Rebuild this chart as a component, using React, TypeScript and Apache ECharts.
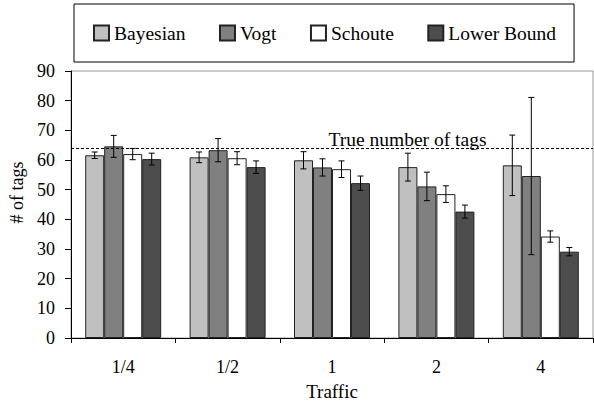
import React, { useEffect, useRef } from "react";
import * as echarts from "echarts";

const categories = ["1/4", "1/2", "1", "2", "4"];
const seriesNames = ["Bayesian", "Vogt", "Schoute", "Lower Bound"];
const bayesian = [61.6, 60.9, 59.9, 57.6, 58.2];
const bayesianErr = [1.1, 1.8, 2.9, 4.7, 10.2];
const vogt = [64.6, 63.3, 57.5, 51.1, 54.6];
const vogtErr = [3.7, 3.9, 2.9, 4.8, 26.5];
const schoute = [62.0, 60.6, 56.9, 48.5, 34.2];
const schouteErr = [1.9, 2.2, 2.8, 2.8, 1.9];
const lowerBound = [60.3, 57.6, 52.2, 42.6, 29.1];
const lowerBoundErr = [2.0, 2.1, 2.4, 2.2, 1.4];
const trueTags = 63.8;
const yTicks = [0, 10, 20, 30, 40, 50, 60, 70, 80, 90];

const colors = ["#c0c0c0", "#808080", "#ffffff", "#4d4d4d"];
const FONT = "Liberation Serif";
const BAR_W = 19;

export default function App() {
  const ref = useRef<HTMLDivElement>(null);
  useEffect(() => {
    if (!ref.current) return;
    const chart = echarts.init(ref.current, null, { renderer: "svg" });
    const values = [bayesian, vogt, schoute, lowerBound];
    const errs = [bayesianErr, vogtErr, schouteErr, lowerBoundErr];

    const barSeries: any[] = values.map((vals, i) => ({
      type: "bar",
      name: seriesNames[i],
      data: vals,
      barWidth: BAR_W,
      barGap: "0%",
      itemStyle: { color: colors[i], borderColor: "#222", borderWidth: 1 },
      z: 2,
      ...(i === 0
        ? {
            markLine: {
              silent: true,
              symbol: ["none", "none"],
              label: { show: false },
              lineStyle: { color: "#000", type: [3, 2], width: 1 },
              data: [{ yAxis: trueTags }],
            },
          }
        : {}),
    }));

    const errSeries: any[] = values.map((vals, i) => ({
      type: "custom",
      name: seriesNames[i] + " error",
      z: 5,
      silent: true,
      data: vals.map((v, k) => [k, v - errs[i][k], v + errs[i][k]]),
      renderItem: (params: any, api: any) => {
        const idx = api.value(0);
        const lo = api.coord([idx, api.value(1)]);
        const hi = api.coord([idx, api.value(2)]);
        const x = lo[0] + (i - 1.5) * BAR_W;
        const cap = 3;
        const st = { stroke: "#000", lineWidth: 1 };
        return {
          type: "group",
          children: [
            { type: "line", shape: { x1: x, y1: lo[1], x2: x, y2: hi[1] }, style: st },
            { type: "line", shape: { x1: x - cap, y1: lo[1], x2: x + cap, y2: lo[1] }, style: st },
            { type: "line", shape: { x1: x - cap, y1: hi[1], x2: x + cap, y2: hi[1] }, style: st },
          ],
        };
      },
    }));

    chart.setOption({
      animation: false,
      backgroundColor: "#fff",
      textStyle: { fontFamily: FONT },
      grid: {
        left: 71,
        right: 1,
        top: 71,
        bottom: 66,
        show: true,
        borderColor: "#999",
        borderWidth: 1,
        backgroundColor: "transparent",
      },
      legend: {
        data: seriesNames,
        left: 74,
        top: 4,
        padding: [19, 18, 19, 19],
        itemGap: 33.5,
        itemWidth: 15,
        itemHeight: 15,
        borderColor: "#000",
        borderWidth: 1,
        icon: "rect",
        textStyle: { fontFamily: FONT, fontSize: 19.5, color: "#000" },
      },
      xAxis: {
        type: "category",
        data: categories,
        name: "Traffic",
        nameLocation: "middle",
        nameGap: 44,
        nameTextStyle: { fontFamily: FONT, fontSize: 19, color: "#000" },
        axisLine: { lineStyle: { color: "#000", width: 1 } },
        axisTick: { show: true, length: 5, lineStyle: { color: "#000" } },
        axisLabel: { fontFamily: FONT, fontSize: 18, color: "#000", margin: 20 },
        splitLine: { show: false },
      },
      yAxis: {
        type: "value",
        min: yTicks[0],
        max: yTicks[yTicks.length - 1],
        interval: 10,
        name: "# of tags",
        nameLocation: "middle",
        nameGap: 40,
        nameTextStyle: { fontFamily: FONT, fontSize: 18, color: "#000", padding: [0, 0, 0, 24] },
        axisLine: { show: true, lineStyle: { color: "#000", width: 1 } },
        axisTick: { show: true, length: 6, lineStyle: { color: "#000" } },
        axisLabel: { fontFamily: FONT, fontSize: 18, color: "#000", margin: 16 },
        splitLine: { show: false },
      },
      graphic: [
        {
          type: "text",
          x: 407.5,
          y: 139,
          style: {
            text: "True number of tags",
            fontFamily: FONT,
            fontSize: 19.5,
            fill: "#000",
            align: "center",
            verticalAlign: "middle",
          },
          z: 10,
        },
      ],
      series: [...barSeries, ...errSeries],
    });
    return () => chart.dispose();
  }, []);
  return <div ref={ref} style={{ width: 594, height: 406, position: "fixed", left: 0, top: 0 }} />;
}
